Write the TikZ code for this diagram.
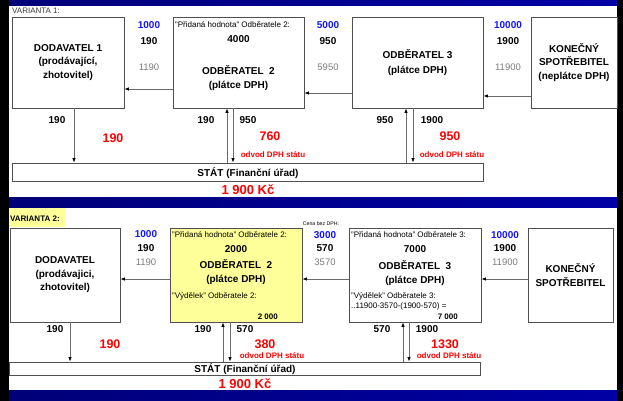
\documentclass[tikz,border=0pt]{standalone}
\usepackage{fontspec}
\setmainfont{Liberation Sans}
\usetikzlibrary{arrows.meta}
\definecolor{navy}{RGB}{0,0,120}
\definecolor{navyl}{RGB}{0,0,165}
\definecolor{boxgray}{RGB}{80,80,80}
\definecolor{linegray}{RGB}{105,105,105}
\definecolor{vblue}{RGB}{20,20,255}
\definecolor{vred}{RGB}{255,0,0}
\definecolor{numgray}{RGB}{125,125,125}
\definecolor{txtgray}{RGB}{60,60,60}
\definecolor{yellowbg}{RGB}{255,255,153}
\tikzset{
  box/.style={draw=boxgray, line width=0.8pt, inner sep=0pt},
  arr/.style={draw=linegray, line width=0.8pt, -{Latex[length=4.5pt,width=3.5pt,color=black]}},
  bt/.style={font=\fontsize{10}{13.5}\selectfont\bfseries, inner sep=0pt, align=center},
  bn/.style={font=\fontsize{10}{12}\selectfont\bfseries, text=vblue, inner sep=0pt},
  gn/.style={font=\fontsize{9.5}{11}\selectfont, text=numgray, inner sep=0pt},
  rb/.style={font=\fontsize{12.5}{14}\selectfont\bfseries, text=vred, inner sep=0pt},
  od/.style={font=\fontsize{8}{9}\selectfont\bfseries, text=vred, inner sep=0pt},
  sm/.style={font=\fontsize{8}{10.5}\selectfont, inner sep=0pt, anchor=west, align=left},
  smb/.style={font=\fontsize{8}{9}\selectfont\bfseries, inner sep=0pt},
}
\begin{document}
\begin{tikzpicture}[x=1pt,y=-1pt]
\useasboundingbox (0,0) rectangle (623,401);
% background frame
\fill[black] (0,0) rectangle (623,401);
\shade[left color=navy, right color=navyl] (9,0) rectangle (617,6);
\fill[white] (9,6) rectangle (617,197);
\shade[left color=navy, right color=navyl] (9,197) rectangle (617,208);
\fill[white] (9,208) rectangle (617,390);
\shade[left color=navy, right color=navyl] (9,390) rectangle (617,401);

% ================= VARIANTA 1 =================
\node[font=\fontsize{8}{9}\selectfont, text=txtgray, anchor=west, inner sep=0pt] (v1t) at (12,11) {VARIANTA 1:};

\node[box, bt, minimum width=112pt, minimum height=91pt] (d1) at (68,62.5) {DODAVATEL 1\\(prodávající,\\zhotovitel)};
\node[box, minimum width=131pt, minimum height=91pt] (o2) at (238.5,62.5) {};
\node[box, bt, minimum width=131pt, minimum height=91pt, font=\fontsize{10}{15}\selectfont\bfseries] (o3) at (417.5,62.5) {ODBĚRATEL 3\\(plátce DPH)};
\node[box, bt, minimum width=86pt, minimum height=91pt] (k1) at (574,62.5) {KONEČNÝ\\SPOTŘEBITEL\\(neplátce DPH)};

\node[sm] (o2h) at (175,25) {"Přidaná hodnota" Odběratele 2:};
\node[bt] (o2n) at (238.5,39) {4000};
\node[bt, font=\fontsize{10}{14}\selectfont\bfseries] (o2t) at (238.5,78) {ODBĚRATEL~~2\\(plátce DPH)};

\node[box, minimum width=471pt, minimum height=18pt] (s1) at (247.5,172) {};
\node[bt] (s1t) at (248,173) {STÁT (Finanční úřad)};
\node[rb, font=\fontsize{13}{14}\selectfont\bfseries] (s1k) at (248,190) {1 900 Kč};

% price columns
\node[bn] (c11) at (149,25) {1000};
\node[bt] (c12) at (149,41) {190};
\node[gn] (c13) at (149,67) {1190};
\node[bn] (c21) at (328,25) {5000};
\node[bt] (c22) at (328,41) {950};
\node[gn] (c23) at (328,67) {5950};
\node[bn] (c31) at (508,25) {10000};
\node[bt] (c32) at (508,41) {1900};
\node[gn] (c33) at (508,67) {11900};

% horizontal arrows
\coordinate (h1) at ([yshift=-26.5pt]o2.west);
\draw[arr] (h1) -- (h1 -| d1.east);
\coordinate (h2) at ([yshift=-30.5pt]o3.west);
\draw[arr] (h2) -- (h2 -| o2.east);
\coordinate (h3) at ([yshift=-33.5pt]k1.west);
\draw[arr] (h3) -- (h3 -| o3.east);

% vertical arrows
\coordinate (vd1) at ([xshift=6pt]d1.south);
\draw[arr] (vd1) -- (vd1 |- s1.north);
\coordinate (u2) at ([xshift=-11.5pt]o2.south);
\draw[arr] (u2 |- s1.north) -- (u2);
\coordinate (w2) at ([xshift=-5.5pt]o2.south);
\draw[arr] (w2) -- (w2 |- s1.north);
\coordinate (u3) at ([xshift=-11.5pt]o3.south);
\draw[arr] (u3 |- s1.north) -- (u3);
\coordinate (w3) at ([xshift=-4.5pt]o3.south);
\draw[arr] (w3) -- (w3 |- s1.north);

% labels below
\node[bt] (l11) at (57,120) {190};
\node[rb] (r11) at (113,138) {190};
\node[bt] (l21) at (206,120) {190};
\node[bt] (l22) at (248,120) {950};
\node[rb] (r21) at (270,136) {760};
\node[od] (o21) at (273,155) {odvod DPH státu};
\node[bt] (l31) at (385,120) {950};
\node[bt] (l32) at (432,120) {1900};
\node[rb] (r31) at (450,136) {950};
\node[od] (o31) at (452,155) {odvod DPH státu};

% ================= VARIANTA 2 =================
\fill[yellowbg] (9,208) rectangle (65,227);
\node[font=\fontsize{8}{9}\selectfont\bfseries, anchor=west, inner sep=0pt] (v2t) at (10,219) {VARIANTA 2:};

\node[box, bt, minimum width=110pt, minimum height=94pt] (d2) at (65,275) {DODAVATEL\\(prodávajici,\\zhotovitel)};
\node[box, fill=yellowbg, minimum width=132pt, minimum height=94pt] (o22) at (236,275) {};
\node[box, minimum width=132pt, minimum height=94pt] (o32) at (415,275) {};
\node[box, bt, minimum width=85pt, minimum height=94pt, font=\fontsize{10}{14}\selectfont\bfseries] (k2) at (570.5,275) {KONEČNÝ\\SPOTŘEBITEL};

\node[sm] (o22h) at (172,235) {"Přidaná hodnota" Odběratele 2:};
\node[bt] (o22n) at (236,249) {2000};
\node[bt, font=\fontsize{10}{14}\selectfont\bfseries] (o22t) at (236,272) {ODBĚRATEL~~2\\(plátce DPH)};
\node[sm] (o22v) at (172,296) {"Výdělek" Odběratele 2:};
\node[smb, anchor=east] (o22s) at (278,317) {2 000};

\node[sm] (o32h) at (351,235) {"Přidaná hodnota" Odběratele 3:};
\node[bt] (o32n) at (415,249) {7000};
\node[bt, font=\fontsize{10}{14}\selectfont\bfseries] (o32t) at (415,273) {ODBĚRATEL~~3\\(plátce DPH)};
\node[sm] (o32v) at (351,301.5) {"Výdělek" Odběratele 3:\\..11900-3570-(1900-570) =};
\node[smb, anchor=east] (o32s) at (458,317) {7 000};

\node[box, minimum width=471pt, minimum height=13pt] (s2) at (245,368.5) {};
\node[bt] (s2t) at (245,369) {STÁT (Finanční úřad)};
\node[rb, font=\fontsize{13}{14}\selectfont\bfseries] (s2k) at (245,384) {1 900 Kč};

\node[font=\fontsize{5.2}{6}\selectfont, inner sep=0pt] (cbd) at (321,224) {Cena bez DPH:};
\node[bn] (e11) at (146,234) {1000};
\node[bt] (e12) at (146,248) {190};
\node[gn] (e13) at (146,262) {1190};
\node[bn] (e21) at (325,235) {3000};
\node[bt] (e22) at (325,248) {570};
\node[gn] (e23) at (325,262) {3570};
\node[bn] (e31) at (505,235) {10000};
\node[bt] (e32) at (505,248) {1900};
\node[gn] (e33) at (505,262) {11900};

\coordinate (g1) at ([yshift=-4pt]o22.west);
\draw[arr] (g1) -- (g1 -| d2.east);
\coordinate (g2) at ([yshift=-4pt]o32.west);
\draw[arr] (g2) -- (g2 -| o22.east);
\coordinate (g3) at ([yshift=-4pt]k2.west);
\draw[arr] (g3) -- (g3 -| o32.east);

\coordinate (vd2) at ([xshift=5pt]d2.south);
\draw[arr] (vd2) -- (vd2 |- s2.north);
\coordinate (u22) at ([xshift=-13pt]o22.south);
\draw[arr] (u22 |- s2.north) -- (u22);
\coordinate (w22) at ([xshift=-6pt]o22.south);
\draw[arr] (w22) -- (w22 |- s2.north);
\coordinate (u32) at ([xshift=-12pt]o32.south);
\draw[arr] (u32 |- s2.north) -- (u32);
\coordinate (w32) at ([xshift=-6pt]o32.south);
\draw[arr] (w32) -- (w32 |- s2.north);

\node[bt] (m11) at (55,329) {190};
\node[rb] (q11) at (110,344) {190};
\node[bt] (m21) at (203,329) {190};
\node[bt] (m22) at (245,329) {570};
\node[rb] (q21) at (265,344) {380};
\node[od] (p21) at (272,356) {odvod DPH státu};
\node[bt] (m31) at (382,329) {570};
\node[bt] (m32) at (427,329) {1900};
\node[rb] (q31) at (445,344) {1330};
\node[od] (p31) at (449,356) {odvod DPH státu};
\end{tikzpicture}
\end{document}
